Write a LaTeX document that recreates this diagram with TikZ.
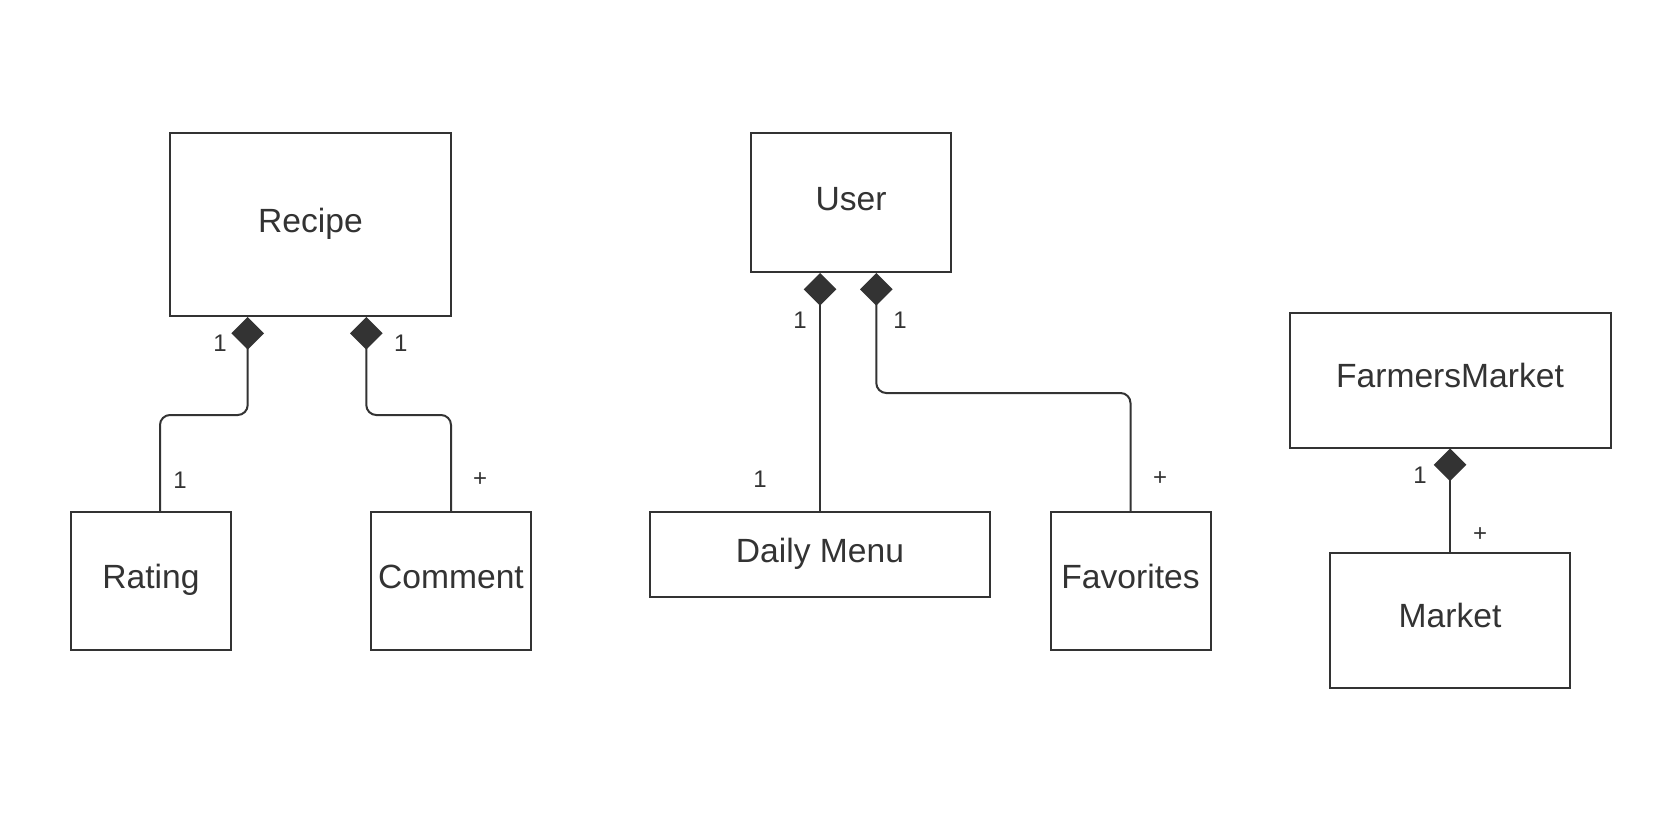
\documentclass[tikz,border=0pt]{standalone}
\usepackage{fontspec}
\setmainfont{Liberation Sans}
\usetikzlibrary{arrows.meta}
\definecolor{ink}{HTML}{333333}
\begin{document}
\begin{tikzpicture}[x=0.5pt,y=-0.5pt,
 box/.style={draw=ink, line width=1pt, text=ink, inner sep=0pt, text height=12pt, text depth=4.3pt, font=\fontsize{16.8}{19}\selectfont},
 comp/.style={draw=ink, line width=1pt, {Diamond[length=16.3pt,width=16.3pt,fill=ink]}-, rounded corners=5pt},
 mult/.style={text=ink, inner sep=0pt, font=\fontsize{12}{14}\selectfont}]
\useasboundingbox[fill=white] (0,0) rectangle (1680,820);
% boxes
\node[box, minimum width=140.5pt, minimum height=91.5pt] (recipe) at (310.5,224.5) {Recipe};
\node[box, minimum width=100pt, minimum height=69.5pt] (user) at (851,202.5) {User};
\node[box, minimum width=160.5pt, minimum height=67.5pt] (fm) at (1450,380) {FarmersMarket};
\node[box, minimum width=80pt, minimum height=69pt] (rating) at (151,581) {Rating};
\node[box, minimum width=80pt, minimum height=69pt] (comment) at (451,581) {Comment};
\node[box, minimum width=170pt, minimum height=42.5pt] (daily) at (820,554.3) {Daily Menu};
\node[box, minimum width=80pt, minimum height=69pt] (fav) at (1130.5,581) {Favorites};
\node[box, minimum width=120pt, minimum height=67.5pt] (market) at (1450,620) {Market};
% connectors
\draw[comp] ([xshift=39.35pt]recipe.south west) -- ++(0,98) -| ([xshift=4.5pt]rating.north);
\draw[comp] ([xshift=98.65pt]recipe.south west) -- ++(0,98) -| (comment.north);
\draw[comp] (user.south west -| daily.north) -- (daily.north);
\draw[comp] ([xshift=63.15pt]user.south west) -- ++(0,120) -| (fav.north);
\draw[comp] (fm.south) -- (market.north);
% multiplicities
\node[mult] (m1) at (220,343) {1};
\node[mult] (m2) at (400.7,343) {1};
\node[mult] (m3) at (180,480) {1};
\node[mult] (m4) at (480,480) {+};
\node[mult] (m5) at (800,320) {1};
\node[mult] (m6) at (900,320) {1};
\node[mult] (m7) at (760,479) {1};
\node[mult] (m8) at (1160,479) {+};
\node[mult] (m9) at (1420,475) {1};
\node[mult] (m10) at (1480,535) {+};
\end{tikzpicture}
\end{document}
